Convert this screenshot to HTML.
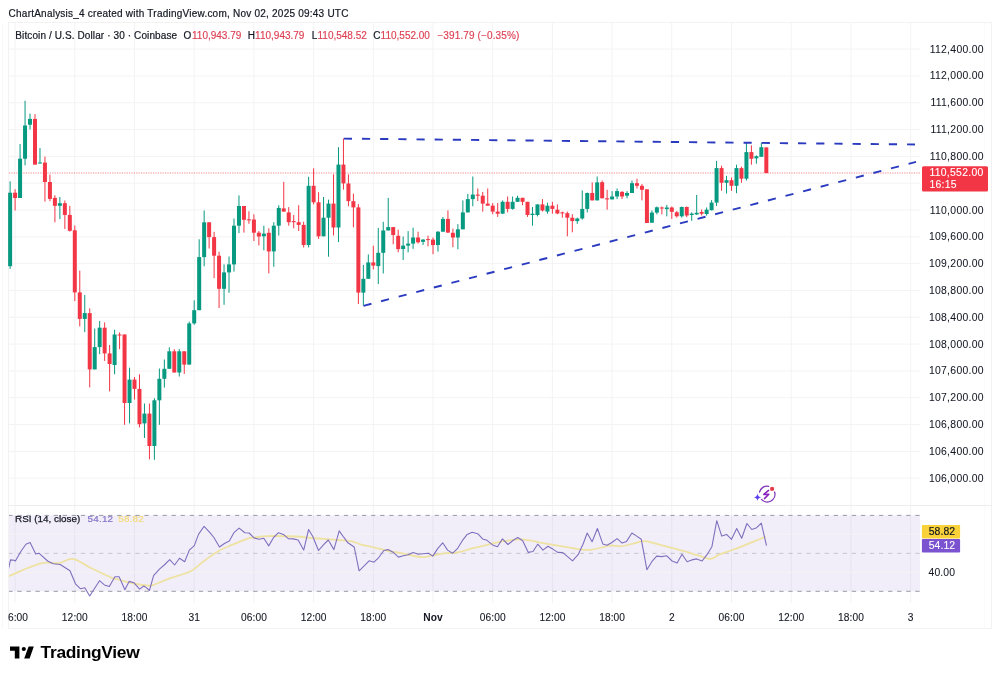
<!DOCTYPE html>
<html><head><meta charset="utf-8"><title>Chart</title>
<style>html,body{margin:0;padding:0;background:#fff;width:1000px;height:678px;overflow:hidden}svg{display:block;will-change:transform}</style>
</head><body>
<svg width="1000" height="678" viewBox="0 0 1000 678">
<defs><clipPath id="pc"><rect x="8" y="23" width="912" height="482"/></clipPath><clipPath id="rc"><rect x="9" y="506" width="911" height="97"/></clipPath></defs>
<line x1="15.10" y1="23" x2="15.10" y2="603" stroke="#F3F3F3" stroke-width="1"/>
<line x1="74.80" y1="23" x2="74.80" y2="603" stroke="#F3F3F3" stroke-width="1"/>
<line x1="134.50" y1="23" x2="134.50" y2="603" stroke="#F3F3F3" stroke-width="1"/>
<line x1="194.20" y1="23" x2="194.20" y2="603" stroke="#F3F3F3" stroke-width="1"/>
<line x1="253.90" y1="23" x2="253.90" y2="603" stroke="#F3F3F3" stroke-width="1"/>
<line x1="313.60" y1="23" x2="313.60" y2="603" stroke="#F3F3F3" stroke-width="1"/>
<line x1="373.30" y1="23" x2="373.30" y2="603" stroke="#F3F3F3" stroke-width="1"/>
<line x1="433.00" y1="23" x2="433.00" y2="603" stroke="#F3F3F3" stroke-width="1"/>
<line x1="492.70" y1="23" x2="492.70" y2="603" stroke="#F3F3F3" stroke-width="1"/>
<line x1="552.40" y1="23" x2="552.40" y2="603" stroke="#F3F3F3" stroke-width="1"/>
<line x1="612.10" y1="23" x2="612.10" y2="603" stroke="#F3F3F3" stroke-width="1"/>
<line x1="671.80" y1="23" x2="671.80" y2="603" stroke="#F3F3F3" stroke-width="1"/>
<line x1="731.50" y1="23" x2="731.50" y2="603" stroke="#F3F3F3" stroke-width="1"/>
<line x1="791.20" y1="23" x2="791.20" y2="603" stroke="#F3F3F3" stroke-width="1"/>
<line x1="850.90" y1="23" x2="850.90" y2="603" stroke="#F3F3F3" stroke-width="1"/>
<line x1="910.60" y1="23" x2="910.60" y2="603" stroke="#F3F3F3" stroke-width="1"/>
<line x1="9" y1="49.10" x2="920" y2="49.10" stroke="#F3F3F3" stroke-width="1"/>
<line x1="9" y1="75.92" x2="920" y2="75.92" stroke="#F3F3F3" stroke-width="1"/>
<line x1="9" y1="102.74" x2="920" y2="102.74" stroke="#F3F3F3" stroke-width="1"/>
<line x1="9" y1="129.55" x2="920" y2="129.55" stroke="#F3F3F3" stroke-width="1"/>
<line x1="9" y1="156.37" x2="920" y2="156.37" stroke="#F3F3F3" stroke-width="1"/>
<line x1="9" y1="183.19" x2="920" y2="183.19" stroke="#F3F3F3" stroke-width="1"/>
<line x1="9" y1="210.01" x2="920" y2="210.01" stroke="#F3F3F3" stroke-width="1"/>
<line x1="9" y1="236.82" x2="920" y2="236.82" stroke="#F3F3F3" stroke-width="1"/>
<line x1="9" y1="263.64" x2="920" y2="263.64" stroke="#F3F3F3" stroke-width="1"/>
<line x1="9" y1="290.46" x2="920" y2="290.46" stroke="#F3F3F3" stroke-width="1"/>
<line x1="9" y1="317.28" x2="920" y2="317.28" stroke="#F3F3F3" stroke-width="1"/>
<line x1="9" y1="344.09" x2="920" y2="344.09" stroke="#F3F3F3" stroke-width="1"/>
<line x1="9" y1="370.91" x2="920" y2="370.91" stroke="#F3F3F3" stroke-width="1"/>
<line x1="9" y1="397.73" x2="920" y2="397.73" stroke="#F3F3F3" stroke-width="1"/>
<line x1="9" y1="424.55" x2="920" y2="424.55" stroke="#F3F3F3" stroke-width="1"/>
<line x1="9" y1="451.36" x2="920" y2="451.36" stroke="#F3F3F3" stroke-width="1"/>
<line x1="9" y1="478.18" x2="920" y2="478.18" stroke="#F3F3F3" stroke-width="1"/>
<rect x="9" y="515.4" width="911" height="75.90" fill="#7E57C2" fill-opacity="0.1"/>
<line x1="9" y1="534.38" x2="920" y2="534.38" stroke="#F3F3F3" stroke-width="1"/>
<line x1="9" y1="572.32" x2="920" y2="572.32" stroke="#F3F3F3" stroke-width="1"/>
<line x1="8.3" y1="515.40" x2="920" y2="515.40" stroke="#989BA3" stroke-width="1" stroke-dasharray="4.3 4.77"/>
<line x1="8.3" y1="553.35" x2="920" y2="553.35" stroke="#989BA3" stroke-width="1" stroke-dasharray="4.3 4.77" stroke-opacity="0.5"/>
<line x1="8.3" y1="591.30" x2="920" y2="591.30" stroke="#989BA3" stroke-width="1" stroke-dasharray="4.3 4.77"/>
<line x1="2.5" y1="23" x2="2.5" y2="628" stroke="#F8F8F8" stroke-width="1"/>
<line x1="984.8" y1="23" x2="984.8" y2="628" stroke="#FAFAFA" stroke-width="1"/>
<rect x="8.5" y="22.5" width="983" height="606" fill="none" stroke="#F2F2F2" stroke-width="1"/>
<line x1="8.5" y1="505.5" x2="991.5" y2="505.5" stroke="#EDEDED" stroke-width="1"/>
<line x1="9" y1="173.00" x2="920" y2="173.00" stroke="#F23645" stroke-width="1" stroke-dasharray="1.2 1.2" stroke-opacity="0.6"/>
<g clip-path="url(#pc)">
<rect x="9.62" y="181.30" width="1" height="87.60" fill="#089981"/>
<rect x="8.12" y="192.70" width="4.0" height="73.50" fill="#089981"/>
<rect x="14.60" y="189.20" width="1" height="21.30" fill="#F23645"/>
<rect x="13.10" y="192.70" width="4.0" height="5.30" fill="#F23645"/>
<rect x="19.57" y="144.00" width="1" height="54.00" fill="#089981"/>
<rect x="18.07" y="158.70" width="4.0" height="39.30" fill="#089981"/>
<rect x="24.55" y="100.80" width="1" height="64.50" fill="#089981"/>
<rect x="23.05" y="125.50" width="4.0" height="33.20" fill="#089981"/>
<rect x="29.52" y="113.60" width="1" height="15.90" fill="#089981"/>
<rect x="28.02" y="118.90" width="4.0" height="5.80" fill="#089981"/>
<rect x="34.50" y="114.10" width="1" height="50.50" fill="#F23645"/>
<rect x="33.00" y="118.90" width="4.0" height="45.70" fill="#F23645"/>
<rect x="39.48" y="148.00" width="1" height="15.50" fill="#089981"/>
<rect x="37.98" y="162.50" width="4.0" height="1.00" fill="#089981"/>
<rect x="44.45" y="156.60" width="1" height="45.00" fill="#F23645"/>
<rect x="42.95" y="162.60" width="4.0" height="19.40" fill="#F23645"/>
<rect x="49.42" y="174.60" width="1" height="26.60" fill="#F23645"/>
<rect x="47.92" y="182.00" width="4.0" height="16.90" fill="#F23645"/>
<rect x="54.40" y="195.20" width="1" height="27.10" fill="#F23645"/>
<rect x="52.90" y="197.90" width="4.0" height="7.90" fill="#F23645"/>
<rect x="59.38" y="197.00" width="1" height="22.10" fill="#089981"/>
<rect x="57.88" y="203.20" width="4.0" height="2.60" fill="#089981"/>
<rect x="64.35" y="200.50" width="1" height="28.50" fill="#F23645"/>
<rect x="62.85" y="203.20" width="4.0" height="11.70" fill="#F23645"/>
<rect x="69.32" y="205.80" width="1" height="25.80" fill="#F23645"/>
<rect x="67.82" y="214.90" width="4.0" height="15.90" fill="#F23645"/>
<rect x="74.30" y="225.50" width="1" height="75.50" fill="#F23645"/>
<rect x="72.80" y="230.30" width="4.0" height="62.10" fill="#F23645"/>
<rect x="79.27" y="270.60" width="1" height="55.80" fill="#F23645"/>
<rect x="77.77" y="292.40" width="4.0" height="26.50" fill="#F23645"/>
<rect x="84.25" y="295.00" width="1" height="37.20" fill="#089981"/>
<rect x="82.75" y="313.10" width="4.0" height="5.80" fill="#089981"/>
<rect x="89.22" y="308.30" width="1" height="79.10" fill="#F23645"/>
<rect x="87.72" y="313.10" width="4.0" height="56.30" fill="#F23645"/>
<rect x="94.20" y="328.50" width="1" height="40.90" fill="#089981"/>
<rect x="92.70" y="347.10" width="4.0" height="22.30" fill="#089981"/>
<rect x="99.17" y="321.00" width="1" height="33.20" fill="#089981"/>
<rect x="97.67" y="327.70" width="4.0" height="19.40" fill="#089981"/>
<rect x="104.15" y="322.40" width="1" height="38.50" fill="#F23645"/>
<rect x="102.65" y="327.70" width="4.0" height="25.70" fill="#F23645"/>
<rect x="109.12" y="345.00" width="1" height="46.40" fill="#F23645"/>
<rect x="107.62" y="353.40" width="4.0" height="10.60" fill="#F23645"/>
<rect x="114.10" y="329.70" width="1" height="44.60" fill="#089981"/>
<rect x="112.60" y="334.50" width="4.0" height="30.50" fill="#089981"/>
<rect x="119.07" y="332.40" width="1" height="16.70" fill="#F23645"/>
<rect x="117.57" y="334.50" width="4.0" height="1.00" fill="#F23645"/>
<rect x="124.05" y="334.50" width="1" height="90.30" fill="#F23645"/>
<rect x="122.55" y="334.50" width="4.0" height="68.50" fill="#F23645"/>
<rect x="129.03" y="367.70" width="1" height="55.70" fill="#089981"/>
<rect x="127.53" y="379.60" width="4.0" height="23.40" fill="#089981"/>
<rect x="134.00" y="377.00" width="1" height="22.50" fill="#F23645"/>
<rect x="132.50" y="379.60" width="4.0" height="9.30" fill="#F23645"/>
<rect x="138.97" y="374.30" width="1" height="53.10" fill="#F23645"/>
<rect x="137.47" y="388.90" width="4.0" height="35.30" fill="#F23645"/>
<rect x="143.95" y="403.50" width="1" height="34.50" fill="#089981"/>
<rect x="142.45" y="413.60" width="4.0" height="9.80" fill="#089981"/>
<rect x="148.92" y="403.50" width="1" height="55.80" fill="#F23645"/>
<rect x="147.42" y="413.60" width="4.0" height="32.40" fill="#F23645"/>
<rect x="153.90" y="398.20" width="1" height="61.60" fill="#089981"/>
<rect x="152.40" y="400.30" width="4.0" height="45.70" fill="#089981"/>
<rect x="158.87" y="368.50" width="1" height="56.30" fill="#089981"/>
<rect x="157.37" y="378.80" width="4.0" height="21.50" fill="#089981"/>
<rect x="163.85" y="359.50" width="1" height="28.10" fill="#089981"/>
<rect x="162.35" y="368.80" width="4.0" height="10.00" fill="#089981"/>
<rect x="168.82" y="347.30" width="1" height="21.50" fill="#089981"/>
<rect x="167.32" y="351.30" width="4.0" height="17.50" fill="#089981"/>
<rect x="173.80" y="349.20" width="1" height="23.30" fill="#F23645"/>
<rect x="172.30" y="351.30" width="4.0" height="21.20" fill="#F23645"/>
<rect x="178.77" y="349.00" width="1" height="27.50" fill="#089981"/>
<rect x="177.27" y="351.30" width="4.0" height="21.20" fill="#089981"/>
<rect x="183.75" y="351.30" width="1" height="22.60" fill="#F23645"/>
<rect x="182.25" y="351.30" width="4.0" height="13.30" fill="#F23645"/>
<rect x="188.72" y="321.60" width="1" height="43.00" fill="#089981"/>
<rect x="187.22" y="323.40" width="4.0" height="41.20" fill="#089981"/>
<rect x="193.70" y="300.30" width="1" height="24.50" fill="#089981"/>
<rect x="192.20" y="310.20" width="4.0" height="13.20" fill="#089981"/>
<rect x="198.67" y="239.30" width="1" height="70.90" fill="#089981"/>
<rect x="197.17" y="257.10" width="4.0" height="53.10" fill="#089981"/>
<rect x="203.65" y="210.50" width="1" height="55.80" fill="#089981"/>
<rect x="202.15" y="222.30" width="4.0" height="34.80" fill="#089981"/>
<rect x="208.62" y="222.30" width="1" height="26.20" fill="#F23645"/>
<rect x="207.12" y="222.30" width="4.0" height="14.80" fill="#F23645"/>
<rect x="213.60" y="231.80" width="1" height="46.40" fill="#F23645"/>
<rect x="212.10" y="237.10" width="4.0" height="18.60" fill="#F23645"/>
<rect x="218.57" y="251.70" width="1" height="56.30" fill="#F23645"/>
<rect x="217.07" y="255.70" width="4.0" height="33.10" fill="#F23645"/>
<rect x="223.55" y="264.40" width="1" height="40.40" fill="#089981"/>
<rect x="222.05" y="272.40" width="4.0" height="16.40" fill="#089981"/>
<rect x="228.52" y="256.50" width="1" height="36.30" fill="#089981"/>
<rect x="227.02" y="264.40" width="4.0" height="8.00" fill="#089981"/>
<rect x="233.50" y="218.50" width="1" height="53.10" fill="#089981"/>
<rect x="232.00" y="225.70" width="4.0" height="38.70" fill="#089981"/>
<rect x="238.47" y="195.40" width="1" height="37.70" fill="#089981"/>
<rect x="236.97" y="206.00" width="4.0" height="19.70" fill="#089981"/>
<rect x="243.45" y="206.00" width="1" height="26.60" fill="#F23645"/>
<rect x="241.95" y="206.00" width="4.0" height="13.80" fill="#F23645"/>
<rect x="248.42" y="211.30" width="1" height="12.50" fill="#F23645"/>
<rect x="246.92" y="219.30" width="4.0" height="1.10" fill="#F23645"/>
<rect x="253.40" y="214.30" width="1" height="26.70" fill="#F23645"/>
<rect x="251.90" y="219.50" width="4.0" height="13.20" fill="#F23645"/>
<rect x="258.38" y="231.00" width="1" height="14.50" fill="#F23645"/>
<rect x="256.88" y="232.70" width="4.0" height="3.80" fill="#F23645"/>
<rect x="263.35" y="225.70" width="1" height="24.60" fill="#089981"/>
<rect x="261.85" y="233.60" width="4.0" height="2.70" fill="#089981"/>
<rect x="268.32" y="228.30" width="1" height="45.10" fill="#F23645"/>
<rect x="266.82" y="232.80" width="4.0" height="18.60" fill="#F23645"/>
<rect x="273.30" y="222.20" width="1" height="44.60" fill="#089981"/>
<rect x="271.80" y="225.70" width="4.0" height="25.70" fill="#089981"/>
<rect x="278.27" y="205.20" width="1" height="30.30" fill="#089981"/>
<rect x="276.77" y="207.90" width="4.0" height="17.80" fill="#089981"/>
<rect x="283.25" y="181.90" width="1" height="29.70" fill="#F23645"/>
<rect x="281.75" y="208.40" width="4.0" height="3.20" fill="#F23645"/>
<rect x="288.23" y="207.10" width="1" height="18.60" fill="#F23645"/>
<rect x="286.73" y="212.40" width="4.0" height="9.80" fill="#F23645"/>
<rect x="293.20" y="215.00" width="1" height="13.30" fill="#F23645"/>
<rect x="291.70" y="221.10" width="4.0" height="1.10" fill="#F23645"/>
<rect x="298.18" y="205.20" width="1" height="25.80" fill="#F23645"/>
<rect x="296.68" y="222.20" width="4.0" height="2.70" fill="#F23645"/>
<rect x="303.15" y="221.70" width="1" height="25.80" fill="#F23645"/>
<rect x="301.65" y="224.90" width="4.0" height="20.10" fill="#F23645"/>
<rect x="308.12" y="176.80" width="1" height="70.60" fill="#089981"/>
<rect x="306.62" y="185.80" width="4.0" height="59.20" fill="#089981"/>
<rect x="313.10" y="168.30" width="1" height="36.10" fill="#F23645"/>
<rect x="311.60" y="185.80" width="4.0" height="16.50" fill="#F23645"/>
<rect x="318.07" y="192.20" width="1" height="46.70" fill="#F23645"/>
<rect x="316.57" y="202.30" width="4.0" height="34.00" fill="#F23645"/>
<rect x="323.05" y="197.00" width="1" height="39.30" fill="#089981"/>
<rect x="321.55" y="217.70" width="4.0" height="18.60" fill="#089981"/>
<rect x="328.02" y="199.60" width="1" height="57.10" fill="#089981"/>
<rect x="326.52" y="203.60" width="4.0" height="14.10" fill="#089981"/>
<rect x="333.00" y="174.40" width="1" height="61.10" fill="#F23645"/>
<rect x="331.50" y="203.60" width="4.0" height="23.90" fill="#F23645"/>
<rect x="337.98" y="147.10" width="1" height="95.00" fill="#089981"/>
<rect x="336.48" y="164.60" width="4.0" height="62.90" fill="#089981"/>
<rect x="342.95" y="138.60" width="1" height="51.00" fill="#F23645"/>
<rect x="341.45" y="164.60" width="4.0" height="18.80" fill="#F23645"/>
<rect x="347.93" y="174.40" width="1" height="31.90" fill="#F23645"/>
<rect x="346.43" y="183.50" width="4.0" height="17.60" fill="#F23645"/>
<rect x="352.90" y="193.60" width="1" height="33.70" fill="#F23645"/>
<rect x="351.40" y="201.20" width="4.0" height="6.20" fill="#F23645"/>
<rect x="357.88" y="204.00" width="1" height="100.00" fill="#F23645"/>
<rect x="356.38" y="207.40" width="4.0" height="85.20" fill="#F23645"/>
<rect x="362.85" y="265.00" width="1" height="40.60" fill="#089981"/>
<rect x="361.35" y="278.80" width="4.0" height="13.80" fill="#089981"/>
<rect x="367.82" y="254.40" width="1" height="24.40" fill="#089981"/>
<rect x="366.32" y="262.40" width="4.0" height="16.40" fill="#089981"/>
<rect x="372.80" y="245.70" width="1" height="23.80" fill="#F23645"/>
<rect x="371.30" y="262.40" width="4.0" height="3.20" fill="#F23645"/>
<rect x="377.77" y="227.90" width="1" height="56.20" fill="#089981"/>
<rect x="376.27" y="252.80" width="4.0" height="13.30" fill="#089981"/>
<rect x="382.75" y="221.80" width="1" height="51.70" fill="#089981"/>
<rect x="381.25" y="230.50" width="4.0" height="22.30" fill="#089981"/>
<rect x="387.73" y="197.90" width="1" height="32.60" fill="#089981"/>
<rect x="386.23" y="227.10" width="4.0" height="3.40" fill="#089981"/>
<rect x="392.70" y="227.10" width="1" height="17.20" fill="#F23645"/>
<rect x="391.20" y="227.10" width="4.0" height="7.90" fill="#F23645"/>
<rect x="397.68" y="229.70" width="1" height="22.60" fill="#F23645"/>
<rect x="396.18" y="235.80" width="4.0" height="13.30" fill="#F23645"/>
<rect x="402.65" y="236.50" width="1" height="23.50" fill="#089981"/>
<rect x="401.15" y="245.60" width="4.0" height="3.40" fill="#089981"/>
<rect x="407.62" y="231.10" width="1" height="21.30" fill="#089981"/>
<rect x="406.12" y="243.60" width="4.0" height="2.00" fill="#089981"/>
<rect x="412.60" y="227.70" width="1" height="21.20" fill="#089981"/>
<rect x="411.10" y="237.50" width="4.0" height="6.10" fill="#089981"/>
<rect x="417.57" y="231.70" width="1" height="11.90" fill="#F23645"/>
<rect x="416.07" y="237.50" width="4.0" height="4.80" fill="#F23645"/>
<rect x="422.55" y="239.10" width="1" height="5.90" fill="#089981"/>
<rect x="421.05" y="239.60" width="4.0" height="2.20" fill="#089981"/>
<rect x="427.52" y="235.70" width="1" height="10.60" fill="#F23645"/>
<rect x="426.02" y="239.10" width="4.0" height="1.00" fill="#F23645"/>
<rect x="432.50" y="237.50" width="1" height="16.70" fill="#F23645"/>
<rect x="431.00" y="239.60" width="4.0" height="5.40" fill="#F23645"/>
<rect x="437.47" y="231.10" width="1" height="20.50" fill="#089981"/>
<rect x="435.97" y="231.70" width="4.0" height="13.30" fill="#089981"/>
<rect x="442.45" y="217.00" width="1" height="14.70" fill="#089981"/>
<rect x="440.95" y="218.90" width="4.0" height="12.80" fill="#089981"/>
<rect x="447.43" y="210.40" width="1" height="22.60" fill="#F23645"/>
<rect x="445.93" y="218.90" width="4.0" height="13.70" fill="#F23645"/>
<rect x="452.40" y="228.60" width="1" height="18.60" fill="#F23645"/>
<rect x="450.90" y="232.80" width="4.0" height="4.70" fill="#F23645"/>
<rect x="457.38" y="224.20" width="1" height="25.10" fill="#089981"/>
<rect x="455.88" y="229.30" width="4.0" height="8.20" fill="#089981"/>
<rect x="462.35" y="200.40" width="1" height="28.90" fill="#089981"/>
<rect x="460.85" y="212.40" width="4.0" height="16.90" fill="#089981"/>
<rect x="467.32" y="193.80" width="1" height="18.60" fill="#089981"/>
<rect x="465.82" y="199.10" width="4.0" height="13.30" fill="#089981"/>
<rect x="472.30" y="176.50" width="1" height="29.80" fill="#089981"/>
<rect x="470.80" y="194.60" width="4.0" height="4.50" fill="#089981"/>
<rect x="477.27" y="188.50" width="1" height="12.50" fill="#F23645"/>
<rect x="475.77" y="194.60" width="4.0" height="1.10" fill="#F23645"/>
<rect x="482.25" y="192.00" width="1" height="19.60" fill="#F23645"/>
<rect x="480.75" y="195.70" width="4.0" height="7.90" fill="#F23645"/>
<rect x="487.22" y="188.50" width="1" height="17.20" fill="#F23645"/>
<rect x="485.72" y="203.60" width="4.0" height="2.10" fill="#F23645"/>
<rect x="492.20" y="203.10" width="1" height="11.10" fill="#F23645"/>
<rect x="490.70" y="205.70" width="4.0" height="5.90" fill="#F23645"/>
<rect x="497.18" y="203.00" width="1" height="13.90" fill="#F23645"/>
<rect x="495.68" y="211.60" width="4.0" height="2.10" fill="#F23645"/>
<rect x="502.15" y="200.40" width="1" height="13.30" fill="#089981"/>
<rect x="500.65" y="201.80" width="4.0" height="11.90" fill="#089981"/>
<rect x="507.12" y="196.50" width="1" height="15.90" fill="#F23645"/>
<rect x="505.62" y="201.80" width="4.0" height="7.10" fill="#F23645"/>
<rect x="512.10" y="196.50" width="1" height="13.20" fill="#089981"/>
<rect x="510.60" y="201.80" width="4.0" height="7.10" fill="#089981"/>
<rect x="517.07" y="195.70" width="1" height="6.10" fill="#089981"/>
<rect x="515.57" y="197.80" width="4.0" height="4.00" fill="#089981"/>
<rect x="522.05" y="197.80" width="1" height="7.40" fill="#F23645"/>
<rect x="520.55" y="197.80" width="4.0" height="4.00" fill="#F23645"/>
<rect x="527.02" y="201.80" width="1" height="15.10" fill="#F23645"/>
<rect x="525.52" y="201.80" width="4.0" height="13.20" fill="#F23645"/>
<rect x="532.00" y="207.10" width="1" height="18.60" fill="#089981"/>
<rect x="530.50" y="213.70" width="4.0" height="1.30" fill="#089981"/>
<rect x="536.98" y="204.40" width="1" height="12.00" fill="#089981"/>
<rect x="535.48" y="204.40" width="4.0" height="10.60" fill="#089981"/>
<rect x="541.95" y="199.10" width="1" height="12.50" fill="#F23645"/>
<rect x="540.45" y="204.40" width="4.0" height="6.10" fill="#F23645"/>
<rect x="546.92" y="202.60" width="1" height="11.10" fill="#089981"/>
<rect x="545.42" y="205.70" width="4.0" height="5.90" fill="#089981"/>
<rect x="551.90" y="201.80" width="1" height="11.90" fill="#F23645"/>
<rect x="550.40" y="205.70" width="4.0" height="3.20" fill="#F23645"/>
<rect x="556.88" y="204.40" width="1" height="9.80" fill="#F23645"/>
<rect x="555.38" y="209.70" width="4.0" height="3.80" fill="#F23645"/>
<rect x="561.85" y="211.60" width="1" height="6.10" fill="#F23645"/>
<rect x="560.35" y="212.40" width="4.0" height="1.00" fill="#F23645"/>
<rect x="566.82" y="211.60" width="1" height="24.70" fill="#F23645"/>
<rect x="565.32" y="213.20" width="4.0" height="4.50" fill="#F23645"/>
<rect x="571.80" y="214.20" width="1" height="18.10" fill="#F23645"/>
<rect x="570.30" y="217.70" width="4.0" height="3.40" fill="#F23645"/>
<rect x="576.77" y="217.70" width="1" height="6.10" fill="#089981"/>
<rect x="575.27" y="218.50" width="4.0" height="2.60" fill="#089981"/>
<rect x="581.75" y="190.40" width="1" height="29.20" fill="#089981"/>
<rect x="580.25" y="208.90" width="4.0" height="9.60" fill="#089981"/>
<rect x="586.73" y="192.50" width="1" height="19.90" fill="#089981"/>
<rect x="585.23" y="193.00" width="4.0" height="15.90" fill="#089981"/>
<rect x="591.70" y="182.40" width="1" height="18.00" fill="#F23645"/>
<rect x="590.20" y="193.00" width="4.0" height="7.40" fill="#F23645"/>
<rect x="596.67" y="176.50" width="1" height="23.90" fill="#089981"/>
<rect x="595.17" y="182.40" width="4.0" height="18.00" fill="#089981"/>
<rect x="601.65" y="180.50" width="1" height="17.80" fill="#F23645"/>
<rect x="600.15" y="182.20" width="4.0" height="16.10" fill="#F23645"/>
<rect x="606.62" y="189.80" width="1" height="19.90" fill="#F23645"/>
<rect x="605.12" y="198.30" width="4.0" height="1.10" fill="#F23645"/>
<rect x="611.60" y="191.10" width="1" height="8.30" fill="#089981"/>
<rect x="610.10" y="196.50" width="4.0" height="2.90" fill="#089981"/>
<rect x="616.57" y="188.50" width="1" height="10.60" fill="#089981"/>
<rect x="615.07" y="191.10" width="4.0" height="5.40" fill="#089981"/>
<rect x="621.55" y="191.10" width="1" height="8.00" fill="#F23645"/>
<rect x="620.05" y="191.90" width="4.0" height="4.60" fill="#F23645"/>
<rect x="626.52" y="191.10" width="1" height="7.20" fill="#089981"/>
<rect x="625.02" y="193.00" width="4.0" height="2.70" fill="#089981"/>
<rect x="631.50" y="180.50" width="1" height="12.50" fill="#089981"/>
<rect x="630.00" y="183.20" width="4.0" height="9.80" fill="#089981"/>
<rect x="636.48" y="178.70" width="1" height="9.80" fill="#F23645"/>
<rect x="634.98" y="183.20" width="4.0" height="2.60" fill="#F23645"/>
<rect x="641.45" y="184.00" width="1" height="16.40" fill="#F23645"/>
<rect x="639.95" y="185.80" width="4.0" height="4.00" fill="#F23645"/>
<rect x="646.42" y="189.30" width="1" height="33.70" fill="#F23645"/>
<rect x="644.92" y="189.30" width="4.0" height="33.70" fill="#F23645"/>
<rect x="651.40" y="210.50" width="1" height="12.20" fill="#089981"/>
<rect x="649.90" y="212.60" width="4.0" height="10.10" fill="#089981"/>
<rect x="656.38" y="206.50" width="1" height="7.90" fill="#089981"/>
<rect x="654.88" y="207.30" width="4.0" height="5.30" fill="#089981"/>
<rect x="661.35" y="206.50" width="1" height="7.90" fill="#F23645"/>
<rect x="659.85" y="207.50" width="4.0" height="1.00" fill="#F23645"/>
<rect x="666.32" y="204.90" width="1" height="11.40" fill="#089981"/>
<rect x="664.82" y="207.50" width="4.0" height="1.60" fill="#089981"/>
<rect x="671.30" y="206.50" width="1" height="12.40" fill="#F23645"/>
<rect x="669.80" y="207.50" width="4.0" height="4.30" fill="#F23645"/>
<rect x="676.27" y="211.00" width="1" height="6.60" fill="#F23645"/>
<rect x="674.77" y="212.30" width="4.0" height="4.00" fill="#F23645"/>
<rect x="681.25" y="206.50" width="1" height="11.10" fill="#089981"/>
<rect x="679.75" y="207.00" width="4.0" height="9.30" fill="#089981"/>
<rect x="686.23" y="206.50" width="1" height="10.70" fill="#F23645"/>
<rect x="684.73" y="207.00" width="4.0" height="8.50" fill="#F23645"/>
<rect x="691.20" y="212.30" width="1" height="8.50" fill="#089981"/>
<rect x="689.70" y="213.60" width="4.0" height="1.40" fill="#089981"/>
<rect x="696.17" y="195.00" width="1" height="19.90" fill="#089981"/>
<rect x="694.67" y="212.80" width="4.0" height="1.60" fill="#089981"/>
<rect x="701.15" y="209.50" width="1" height="6.00" fill="#F23645"/>
<rect x="699.65" y="212.00" width="4.0" height="1.70" fill="#F23645"/>
<rect x="706.12" y="207.50" width="1" height="8.10" fill="#089981"/>
<rect x="704.62" y="209.70" width="4.0" height="4.30" fill="#089981"/>
<rect x="711.10" y="200.10" width="1" height="10.30" fill="#089981"/>
<rect x="709.60" y="202.60" width="4.0" height="7.60" fill="#089981"/>
<rect x="716.07" y="161.00" width="1" height="45.00" fill="#089981"/>
<rect x="714.57" y="168.10" width="4.0" height="34.50" fill="#089981"/>
<rect x="721.05" y="165.70" width="1" height="25.10" fill="#F23645"/>
<rect x="719.55" y="168.10" width="4.0" height="14.70" fill="#F23645"/>
<rect x="726.02" y="175.80" width="1" height="17.70" fill="#089981"/>
<rect x="724.52" y="180.20" width="4.0" height="2.60" fill="#089981"/>
<rect x="731.00" y="177.50" width="1" height="13.30" fill="#F23645"/>
<rect x="729.50" y="180.20" width="4.0" height="5.60" fill="#F23645"/>
<rect x="735.98" y="164.70" width="1" height="28.50" fill="#089981"/>
<rect x="734.48" y="168.10" width="4.0" height="17.70" fill="#089981"/>
<rect x="740.95" y="166.60" width="1" height="16.20" fill="#F23645"/>
<rect x="739.45" y="168.10" width="4.0" height="10.60" fill="#F23645"/>
<rect x="745.92" y="142.60" width="1" height="37.90" fill="#089981"/>
<rect x="744.42" y="152.10" width="4.0" height="26.60" fill="#089981"/>
<rect x="750.90" y="145.30" width="1" height="19.40" fill="#F23645"/>
<rect x="749.40" y="152.10" width="4.0" height="6.70" fill="#F23645"/>
<rect x="755.88" y="155.40" width="1" height="8.30" fill="#089981"/>
<rect x="754.38" y="156.20" width="4.0" height="2.10" fill="#089981"/>
<rect x="760.85" y="142.60" width="1" height="14.20" fill="#089981"/>
<rect x="759.35" y="147.20" width="4.0" height="9.60" fill="#089981"/>
<rect x="765.82" y="147.40" width="1" height="25.70" fill="#F23645"/>
<rect x="764.32" y="147.40" width="4.0" height="25.70" fill="#F23645"/>
</g>
<line x1="343.8" y1="138.6" x2="915" y2="144.5" stroke="#2B3BC0" stroke-width="1.9" stroke-dasharray="8.2 9.97"/>
<line x1="363.3" y1="305.9" x2="916" y2="161.9" stroke="#2B3BC0" stroke-width="1.9" stroke-dasharray="8.2 9.97" stroke-dashoffset="-0.2"/>
<g clip-path="url(#rc)">
<path d="M8.4 576.4 C10.50 575.47 15.40 573.02 21.0 570.8 C26.60 568.58 35.70 564.38 42.0 563.1 C48.30 561.82 53.67 563.80 58.8 563.1 C63.93 562.40 67.43 558.08 72.8 558.9 C78.17 559.72 84.47 564.85 91.0 568.0 C97.53 571.15 107.17 575.80 112.0 577.8 C116.83 579.80 116.33 579.05 120.0 580.0 C123.67 580.95 129.33 582.57 134.0 583.5 C138.67 584.43 144.73 585.37 148.0 585.6 C151.27 585.83 150.10 586.07 153.6 584.9 C157.10 583.73 162.93 580.83 169.0 578.6 C175.07 576.37 184.17 574.43 190.0 571.5 C195.83 568.57 199.33 564.38 204.0 561.0 C208.67 557.62 213.33 553.88 218.0 551.2 C222.67 548.52 226.67 547.12 232.0 544.9 C237.33 542.68 246.33 539.13 250.0 537.9 C253.67 536.67 251.00 537.80 254.0 537.5 C257.00 537.20 261.00 536.27 268.0 536.1 C275.00 535.93 289.00 536.20 296.0 536.5 C303.00 536.80 305.33 537.50 310.0 537.9 C314.67 538.30 319.33 538.55 324.0 538.9 C328.67 539.25 333.33 539.58 338.0 540.0 C342.67 540.42 348.02 540.58 352.0 541.4 C355.98 542.22 358.23 543.92 361.9 544.9 C365.57 545.88 369.65 546.28 374.0 547.3 C378.35 548.32 383.33 550.00 388.0 551.0 C392.67 552.00 396.40 552.28 402.0 553.3 C407.60 554.32 416.47 556.75 421.6 557.1 C426.73 557.45 429.07 556.03 432.8 555.4 C436.53 554.77 439.80 553.80 444.0 553.3 C448.20 552.80 453.33 553.22 458.0 552.4 C462.67 551.58 466.67 549.77 472.0 548.4 C477.33 547.03 485.17 545.32 490.0 544.2 C494.83 543.08 495.67 542.52 501.0 541.7 C506.33 540.88 515.00 539.07 522.0 539.3 C529.00 539.53 536.00 541.87 543.0 543.1 C550.00 544.33 558.17 545.70 564.0 546.7 C569.83 547.70 573.33 548.62 578.0 549.1 C582.67 549.58 586.67 550.18 592.0 549.6 C597.33 549.02 605.17 546.15 610.0 545.6 C614.83 545.05 616.83 546.72 621.0 546.3 C625.17 545.88 631.03 543.97 635.0 543.1 C638.97 542.23 640.13 540.68 644.8 541.1 C649.47 541.52 656.47 543.92 663.0 545.6 C669.53 547.28 678.17 549.57 684.0 551.2 C689.83 552.83 693.58 554.12 698.0 555.4 C702.42 556.68 707.00 559.02 710.5 558.9 C714.00 558.78 715.62 556.10 719.0 554.7 C722.38 553.30 726.97 551.90 730.8 550.5 C734.63 549.10 737.80 547.93 742.0 546.3 C746.20 544.67 752.03 542.33 756.0 540.7 C759.97 539.07 764.17 537.20 765.8 536.5" fill="none" stroke="#EEE2A2" stroke-width="1.8" stroke-linejoin="round"/>
<polyline points="8.4 569.4 10.5 559.9 14 560.3 15.4 561 21 551.2 25.9 544.2 30.1 542.5 35.7 554 39.2 553.3 47.6 561 53.2 563.8 60.2 564.5 70 570.8 75.7 584.2 80.6 588.8 84.8 587.7 89.7 596 99.5 580.7 104.4 584.9 109.3 586.5 114.9 576.7 119.1 576.7 124.9 589.8 129.1 581.4 134 582.8 139.6 589.1 143.8 586 146.6 587.9 149.4 590.5 153.6 575.7 159.2 569.4 164.8 564.5 169.7 559.6 174.6 565 179.5 558.2 184.7 561.7 189.3 550.1 194.3 545.6 198.5 534.4 204.1 526.3 209.7 532.3 213.9 537.5 219.5 547 224.4 543.5 229.3 541.1 234.2 532.3 239.1 528.1 244.9 532.7 249.1 533 254 537.9 258.9 539.3 263.8 538.3 268.7 545.9 273.6 537.5 278.5 532.7 283.4 534.4 288.3 538.6 293.2 538.9 298.1 540 303.7 550.1 308.6 529.5 312.8 536.5 318.5 550.5 323.4 544.9 328.3 540 333.9 549.6 339.2 530.9 343.7 537.2 347.9 542.8 354.2 547 359.1 570.8 364.9 565.2 369.1 560.8 374 562.2 378.2 558.2 383.8 550.5 388 549.6 393.6 552.6 398.5 557.1 403.4 555.7 408.3 554.7 413.2 552.6 418.1 554.3 423 553.8 428.6 553.3 432.8 556.1 437.8 548.4 442.7 542.8 447.6 550.1 452.5 553.3 457.4 548.7 462.3 540.7 467.2 534.4 472.1 532.3 477.7 533.7 482.6 538.9 487 540.3 492.6 544.9 497.5 546.7 502.4 538.9 508 544.5 513.6 540 517.8 537.5 522.7 540.7 528.3 552.4 533 551.5 537.7 544.2 543 550.1 547.9 546.3 552.8 549.1 557.8 552.4 562.7 552.6 567.6 556.6 572.5 560.8 578.1 554.7 583 544.2 587.2 533 592.1 541.7 597.4 528.5 602.8 543.9 607 545.3 611.9 542.5 617.1 538.6 622.1 543.1 626.6 541.4 631.9 533 636.7 536.1 641.3 539.3 646.9 569.7 651.8 561.7 656.7 556.1 661.6 556.6 666.5 555.7 672.1 561 677.1 563.1 682 554.3 687.1 561.7 691.8 559.9 696.7 558.9 702.1 561 707 554.7 711.9 546.7 716.8 520.7 721.7 536.1 726.6 534.4 731.5 539.3 736.7 528.5 741.7 538.3 746.9 523.5 751.8 529.5 756.7 527.7 761.3 523.2 766.5 545.6" fill="none" stroke="#8070BE" stroke-width="1.1" stroke-linejoin="round"/>
</g>
<text x="8.60" y="16.70" font-family="Liberation Sans, sans-serif" font-size="10" fill="#131722" letter-spacing="0.23" stroke="#131722" stroke-width="0.2">ChartAnalysis_4 created with TradingView.com, Nov 02, 2025 09:43 UTC</text>
<text x="15.30" y="38.80" font-family="Liberation Sans, sans-serif" font-size="10" fill="#131722" letter-spacing="0.11" stroke="#131722" stroke-width="0.2">Bitcoin / U.S. Dollar · 30 · Coinbase</text>
<text x="183.60" y="38.80" font-family="Liberation Sans, sans-serif" font-size="10" fill="#131722" stroke="#131722" stroke-width="0.2">O</text>
<text x="192.00" y="38.80" font-family="Liberation Sans, sans-serif" font-size="10" fill="#DD3F52" stroke="#DD3F52" stroke-width="0.15">110,943.79</text>
<text x="247.80" y="38.80" font-family="Liberation Sans, sans-serif" font-size="10" fill="#131722" stroke="#131722" stroke-width="0.2">H</text>
<text x="255.10" y="38.80" font-family="Liberation Sans, sans-serif" font-size="10" fill="#DD3F52" stroke="#DD3F52" stroke-width="0.15">110,943.79</text>
<text x="311.70" y="38.80" font-family="Liberation Sans, sans-serif" font-size="10" fill="#131722" stroke="#131722" stroke-width="0.2">L</text>
<text x="317.50" y="38.80" font-family="Liberation Sans, sans-serif" font-size="10" fill="#DD3F52" stroke="#DD3F52" stroke-width="0.15">110,548.52</text>
<text x="373.30" y="38.80" font-family="Liberation Sans, sans-serif" font-size="10" fill="#131722" stroke="#131722" stroke-width="0.2">C</text>
<text x="380.60" y="38.80" font-family="Liberation Sans, sans-serif" font-size="10" fill="#DD3F52" stroke="#DD3F52" stroke-width="0.15">110,552.00</text>
<text x="437.40" y="38.80" font-family="Liberation Sans, sans-serif" font-size="10" fill="#DD3F52" letter-spacing="0.12" stroke="#DD3F52" stroke-width="0.15">−391.79 (−0.35%)</text>
<text x="983.90" y="52.65" font-family="Liberation Sans, sans-serif" font-size="10.4" fill="#131722" text-anchor="end" letter-spacing="0.3" stroke="#131722" stroke-width="0.05">112,400.00</text>
<text x="983.90" y="79.47" font-family="Liberation Sans, sans-serif" font-size="10.4" fill="#131722" text-anchor="end" letter-spacing="0.3" stroke="#131722" stroke-width="0.05">112,000.00</text>
<text x="983.90" y="106.29" font-family="Liberation Sans, sans-serif" font-size="10.4" fill="#131722" text-anchor="end" letter-spacing="0.3" stroke="#131722" stroke-width="0.05">111,600.00</text>
<text x="983.90" y="133.10" font-family="Liberation Sans, sans-serif" font-size="10.4" fill="#131722" text-anchor="end" letter-spacing="0.3" stroke="#131722" stroke-width="0.05">111,200.00</text>
<text x="983.90" y="159.92" font-family="Liberation Sans, sans-serif" font-size="10.4" fill="#131722" text-anchor="end" letter-spacing="0.3" stroke="#131722" stroke-width="0.05">110,800.00</text>
<text x="983.90" y="213.56" font-family="Liberation Sans, sans-serif" font-size="10.4" fill="#131722" text-anchor="end" letter-spacing="0.3" stroke="#131722" stroke-width="0.05">110,000.00</text>
<text x="983.90" y="240.37" font-family="Liberation Sans, sans-serif" font-size="10.4" fill="#131722" text-anchor="end" letter-spacing="0.3" stroke="#131722" stroke-width="0.05">109,600.00</text>
<text x="983.90" y="267.19" font-family="Liberation Sans, sans-serif" font-size="10.4" fill="#131722" text-anchor="end" letter-spacing="0.3" stroke="#131722" stroke-width="0.05">109,200.00</text>
<text x="983.90" y="294.01" font-family="Liberation Sans, sans-serif" font-size="10.4" fill="#131722" text-anchor="end" letter-spacing="0.3" stroke="#131722" stroke-width="0.05">108,800.00</text>
<text x="983.90" y="320.83" font-family="Liberation Sans, sans-serif" font-size="10.4" fill="#131722" text-anchor="end" letter-spacing="0.3" stroke="#131722" stroke-width="0.05">108,400.00</text>
<text x="983.90" y="347.64" font-family="Liberation Sans, sans-serif" font-size="10.4" fill="#131722" text-anchor="end" letter-spacing="0.3" stroke="#131722" stroke-width="0.05">108,000.00</text>
<text x="983.90" y="374.46" font-family="Liberation Sans, sans-serif" font-size="10.4" fill="#131722" text-anchor="end" letter-spacing="0.3" stroke="#131722" stroke-width="0.05">107,600.00</text>
<text x="983.90" y="401.28" font-family="Liberation Sans, sans-serif" font-size="10.4" fill="#131722" text-anchor="end" letter-spacing="0.3" stroke="#131722" stroke-width="0.05">107,200.00</text>
<text x="983.90" y="428.10" font-family="Liberation Sans, sans-serif" font-size="10.4" fill="#131722" text-anchor="end" letter-spacing="0.3" stroke="#131722" stroke-width="0.05">106,800.00</text>
<text x="983.90" y="454.91" font-family="Liberation Sans, sans-serif" font-size="10.4" fill="#131722" text-anchor="end" letter-spacing="0.3" stroke="#131722" stroke-width="0.05">106,400.00</text>
<text x="983.90" y="481.73" font-family="Liberation Sans, sans-serif" font-size="10.4" fill="#131722" text-anchor="end" letter-spacing="0.3" stroke="#131722" stroke-width="0.05">106,000.00</text>
<rect x="922" y="166.2" width="66" height="25.4" rx="1.5" fill="#F23645"/>
<text x="929.40" y="176.30" font-family="Liberation Sans, sans-serif" font-size="10.4" fill="#fff" letter-spacing="0.3" stroke="#fff" stroke-width="0.1">110,552.00</text>
<text x="929.40" y="187.60" font-family="Liberation Sans, sans-serif" font-size="10.4" fill="#fff" letter-spacing="0.3" stroke="#fff" stroke-width="0.1">16:15</text>
<text x="15.00" y="522.30" font-family="Liberation Sans, sans-serif" font-size="9.9" fill="#131722" stroke="#131722" stroke-width="0.25">RSI (14, close)</text>
<text x="87.60" y="522.30" font-family="Liberation Sans, sans-serif" font-size="9.9" fill="#8572C8" letter-spacing="0.2" stroke="#8572C8" stroke-width="0.2">54.12</text>
<text x="118.30" y="522.30" font-family="Liberation Sans, sans-serif" font-size="9.9" fill="#F3DA78" letter-spacing="0.2" stroke="#F3DA78" stroke-width="0.2">58.82</text>
<rect x="921.9" y="525" width="38.2" height="13.6" rx="1" fill="#F9D23A"/>
<text x="941.95" y="535.30" font-family="Liberation Sans, sans-serif" font-size="10.4" fill="#131722" text-anchor="middle" letter-spacing="0.1" stroke="#131722" stroke-width="0.2">58.82</text>
<rect x="921.9" y="539.1" width="38.2" height="13.4" rx="1" fill="#7B52D0"/>
<text x="941.95" y="549.40" font-family="Liberation Sans, sans-serif" font-size="10.4" fill="#fff" text-anchor="middle" letter-spacing="0.1" stroke="#fff" stroke-width="0.1">54.12</text>
<text x="941.85" y="576.00" font-family="Liberation Sans, sans-serif" font-size="10.4" fill="#131722" text-anchor="middle" letter-spacing="0.1" stroke="#131722" stroke-width="0.05">40.00</text>
<clipPath id="tc"><rect x="8" y="603" width="912" height="25"/></clipPath>
<g clip-path="url(#tc)">
<text x="15.15" y="621.00" font-family="Liberation Sans, sans-serif" font-size="10.2" fill="#131722" text-anchor="middle" letter-spacing="0.1" stroke="#131722" stroke-width="0.1">06:00</text>
<text x="74.85" y="621.00" font-family="Liberation Sans, sans-serif" font-size="10.2" fill="#131722" text-anchor="middle" letter-spacing="0.1" stroke="#131722" stroke-width="0.1">12:00</text>
<text x="134.55" y="621.00" font-family="Liberation Sans, sans-serif" font-size="10.2" fill="#131722" text-anchor="middle" letter-spacing="0.1" stroke="#131722" stroke-width="0.1">18:00</text>
<text x="194.25" y="621.00" font-family="Liberation Sans, sans-serif" font-size="10.2" fill="#131722" text-anchor="middle" letter-spacing="0.1" stroke="#131722" stroke-width="0.1">31</text>
<text x="253.95" y="621.00" font-family="Liberation Sans, sans-serif" font-size="10.2" fill="#131722" text-anchor="middle" letter-spacing="0.1" stroke="#131722" stroke-width="0.1">06:00</text>
<text x="313.65" y="621.00" font-family="Liberation Sans, sans-serif" font-size="10.2" fill="#131722" text-anchor="middle" letter-spacing="0.1" stroke="#131722" stroke-width="0.1">12:00</text>
<text x="373.35" y="621.00" font-family="Liberation Sans, sans-serif" font-size="10.2" fill="#131722" text-anchor="middle" letter-spacing="0.1" stroke="#131722" stroke-width="0.1">18:00</text>
<text x="433.05" y="621.00" font-family="Liberation Sans, sans-serif" font-size="10.2" fill="#131722" text-anchor="middle" font-weight="bold" letter-spacing="0.1">Nov</text>
<text x="492.75" y="621.00" font-family="Liberation Sans, sans-serif" font-size="10.2" fill="#131722" text-anchor="middle" letter-spacing="0.1" stroke="#131722" stroke-width="0.1">06:00</text>
<text x="552.45" y="621.00" font-family="Liberation Sans, sans-serif" font-size="10.2" fill="#131722" text-anchor="middle" letter-spacing="0.1" stroke="#131722" stroke-width="0.1">12:00</text>
<text x="612.15" y="621.00" font-family="Liberation Sans, sans-serif" font-size="10.2" fill="#131722" text-anchor="middle" letter-spacing="0.1" stroke="#131722" stroke-width="0.1">18:00</text>
<text x="671.85" y="621.00" font-family="Liberation Sans, sans-serif" font-size="10.2" fill="#131722" text-anchor="middle" letter-spacing="0.1" stroke="#131722" stroke-width="0.1">2</text>
<text x="731.55" y="621.00" font-family="Liberation Sans, sans-serif" font-size="10.2" fill="#131722" text-anchor="middle" letter-spacing="0.1" stroke="#131722" stroke-width="0.1">06:00</text>
<text x="791.25" y="621.00" font-family="Liberation Sans, sans-serif" font-size="10.2" fill="#131722" text-anchor="middle" letter-spacing="0.1" stroke="#131722" stroke-width="0.1">12:00</text>
<text x="850.95" y="621.00" font-family="Liberation Sans, sans-serif" font-size="10.2" fill="#131722" text-anchor="middle" letter-spacing="0.1" stroke="#131722" stroke-width="0.1">18:00</text>
<text x="910.65" y="621.00" font-family="Liberation Sans, sans-serif" font-size="10.2" fill="#131722" text-anchor="middle" letter-spacing="0.1" stroke="#131722" stroke-width="0.1">3</text>
</g>
<g fill="none" stroke-linecap="round">
<path d="M768.6 486.3 A7.7 7.7 0 0 0 759.5 492.2" stroke="#7E33B8" stroke-width="1.3"/>
<path d="M761.5 499.4 A7.7 7.7 0 0 0 774.6 492" stroke="#7E33B8" stroke-width="1.3"/>
<path d="M768.6 490.4 L763.8 494.4 L768.9 494.3 L764.4 498.6" stroke="#8A22BE" stroke-width="1.5" stroke-linejoin="round"/>
</g>
<circle cx="772.1" cy="488.9" r="2.1" fill="#E33A4F"/>
<path d="M757.5 493.5 Q757.9 496.9 761.3 497.3 Q757.9 497.7 757.5 501.1 Q757.1 497.7 753.7 497.3 Q757.1 496.9 757.5 493.5 Z" fill="#5B3FF0"/>
<g fill="#000">
<path d="M10 646.4 H19.4 V658.6 H14.8 V650.8 H10 Z"/>
<circle cx="23.8" cy="649" r="2.1"/>
<path d="M28.6 646.4 H33.8 L29.6 658.6 H24.2 Z"/>
</g>
<text x="40.6" y="658.4" font-family="Liberation Sans, sans-serif" font-size="17.4" font-weight="bold" fill="#000" letter-spacing="-0.3">TradingView</text>
</svg>
</body></html>
